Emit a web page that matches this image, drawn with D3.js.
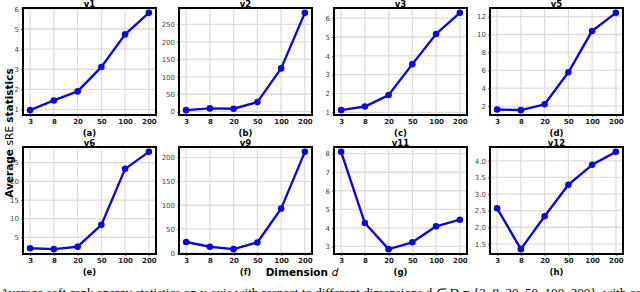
<!DOCTYPE html>
<html>
<head>
<meta charset="utf-8">
<script src="https://cdn.jsdelivr.net/npm/d3@7"></script>
<style>
  body { margin: 0; background: #fff; }
  svg { display: block; }
</style>
</head>
<body>
<script>
// x categories (dimension d)
const dims = ["3", "8", "20", "50", "100", "200"];

// panel titles and sub-labels
const titles = ["v1", "v2", "v3", "v5", "v6", "v9", "v11", "v12"];
const letters = ["(a)", "(b)", "(c)", "(d)", "(e)", "(f)", "(g)", "(h)"];

// average sRE statistics per panel
const v1 = [0.97, 1.45, 1.9, 3.11, 4.73, 5.8];
const v2 = [4.5, 9.5, 8.5, 27.5, 124, 283];
const v3 = [1.12, 1.31, 1.92, 3.56, 5.16, 6.28];
const v5 = [1.62, 1.55, 2.2, 5.78, 10.4, 12.42];
const v6 = [2.1, 1.85, 2.5, 8.35, 23.35, 27.9];
const v9 = [23, 13, 8, 22, 93, 212];
const v11 = [8.1, 4.26, 2.85, 3.22, 4.08, 4.44];
const v12 = [2.57, 1.34, 2.33, 3.28, 3.88, 4.27];

// y tick labels per panel
const ticks1 = [1, 2, 3, 4, 5, 6];
const ticks2 = [0, 50, 100, 150, 200, 250];
const ticks3 = [1, 2, 3, 4, 5, 6];
const ticks5 = [2, 4, 6, 8, 10, 12];
const ticks6 = [5, 10, 15, 20, 25];
const ticks9 = [0, 50, 100, 150, 200];
const ticks11 = [3, 4, 5, 6, 7, 8];
const ticks12 = [1.5, 2.0, 2.5, 3.0, 3.5, 4.0];

const series = [v1, v2, v3, v5, v6, v9, v11, v12];
const tickSets = [ticks1, ticks2, ticks3, ticks5, ticks6, ticks9, ticks11, ticks12];
const intFmt = d3.format("d");
const tickFmt = [intFmt, intFmt, intFmt, intFmt, intFmt, intFmt, intFmt, d3.format(".1f")];

const width = 640, height = 292;
const svg = d3.select("body").append("svg")
  .attr("width", width)
  .attr("height", height);

const colLeft = [23, 179, 334, 490];
const rowTop = [8, 147];
const pw = 133, ph = 107;
const font = "DejaVu Sans, sans-serif";

series.forEach((vals, i) => {
  const col = i % 4, row = Math.floor(i / 4);
  const g = svg.append("g")
    .attr("transform", `translate(${colLeft[col]},${rowTop[row]})`);

  const x = d3.scalePoint().domain(dims).range([0, pw]).padding(0.3);
  const [lo, hi] = d3.extent(vals);
  const m = (hi - lo) * 0.05;
  const y = d3.scaleLinear().domain([lo - m, hi + m]).range([ph, 0]);

  // grid
  g.selectAll(".vg").data(dims).enter().append("line")
    .attr("x1", d => x(d)).attr("x2", d => x(d))
    .attr("y1", 0).attr("y2", ph)
    .attr("stroke", "#dcdcdc").attr("stroke-width", 1.3);
  g.selectAll(".hg").data(tickSets[i]).enter().append("line")
    .attr("x1", 0).attr("x2", pw)
    .attr("y1", d => y(d)).attr("y2", d => y(d))
    .attr("stroke", "#dcdcdc").attr("stroke-width", 1.3);

  // y axis
  const ya = g.append("g")
    .call(d3.axisLeft(y).tickValues(tickSets[i]).tickFormat(tickFmt[i]).tickSize(2).tickPadding(2));
  ya.select(".domain").remove();
  ya.selectAll("line").attr("stroke", "#666");
  ya.selectAll("text").attr("fill", "#444")
    .style("font-family", font).style("font-size", "7px");

  // x axis
  const xa = g.append("g").attr("transform", `translate(0,${ph})`)
    .call(d3.axisBottom(x).tickSize(2).tickPadding(2));
  xa.select(".domain").remove();
  xa.selectAll("line").attr("stroke", "#666");
  xa.selectAll("text").attr("fill", "#222")
    .style("font-family", font).style("font-size", "7px").style("font-weight", "bold");

  // line + markers
  const line = d3.line().x((d, j) => x(dims[j])).y(d => y(d));
  g.append("path").datum(vals)
    .attr("d", line)
    .attr("fill", "none")
    .attr("stroke", "#0b0bd0")
    .attr("stroke-width", 2.4)
    .attr("stroke-linejoin", "round");
  g.selectAll(".pt").data(vals).enter().append("circle")
    .attr("cx", (d, j) => x(dims[j]))
    .attr("cy", d => y(d))
    .attr("r", 3.3)
    .attr("fill", "#0b0bd0");

  // frame
  g.append("rect")
    .attr("width", pw).attr("height", ph)
    .attr("fill", "none").attr("stroke", "#000").attr("stroke-width", 2);

  // title and sub-label
  g.append("text")
    .attr("x", pw / 2).attr("y", -1.5)
    .attr("text-anchor", "middle")
    .style("font-family", font).style("font-size", "8.5px").style("font-weight", "bold")
    .text(titles[i]);
  g.append("text")
    .attr("x", pw / 2).attr("y", ph + 21)
    .attr("text-anchor", "middle")
    .style("font-family", font).style("font-size", "8.5px").style("font-weight", "bold")
    .text(letters[i]);
});

// shared y label
const yl = svg.append("text")
  .attr("transform", "translate(13,133) rotate(-90)")
  .attr("text-anchor", "middle")
  .style("font-family", font).style("font-size", "10.5px");
yl.append("tspan").style("font-weight", "bold").text("Average ");
yl.append("tspan").text("sRE ");
yl.append("tspan").style("font-weight", "bold").text("statistics");

// shared x label
const xl = svg.append("text")
  .attr("x", 302).attr("y", 276)
  .attr("text-anchor", "middle")
  .style("font-family", font).style("font-size", "10.5px");
xl.append("tspan").style("font-weight", "bold").text("Dimension ");
xl.append("tspan").style("font-style", "italic").text("d");

// clipped caption line
svg.append("text")
  .attr("x", 0).attr("y", 296.5)
  .attr("textLength", 652).attr("lengthAdjust", "spacingAndGlyphs")
  .style("font-family", "Liberation Serif, serif").style("font-size", "12px")
  .text("Average soft-rank energy statistics on y-axis with respect to different dimensions d \u2208 D = {3, 8, 20, 50, 100, 200}, with com");
</script>
</body>
</html>
